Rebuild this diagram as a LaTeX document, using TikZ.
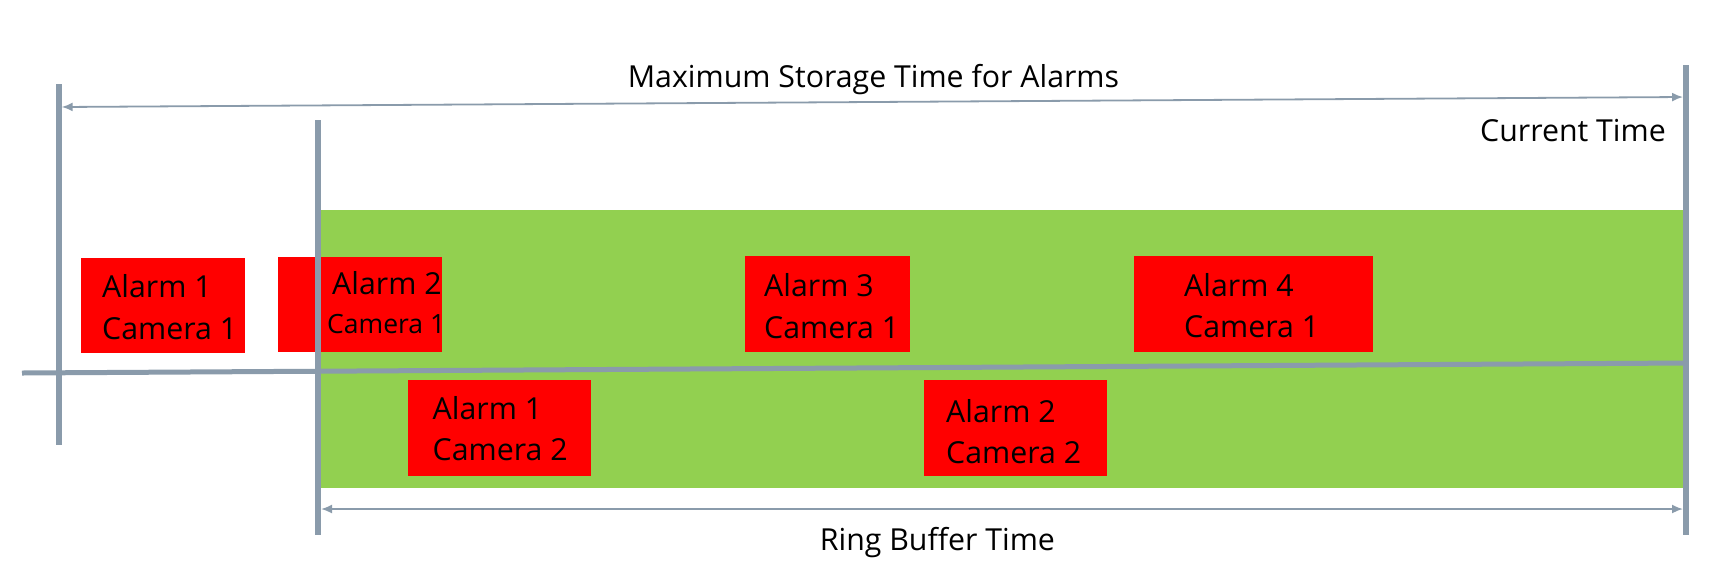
\documentclass[tikz,border=0pt]{standalone}
\usepackage{fontspec}
\setmainfont{Open Sans}
\usetikzlibrary{arrows.meta}
\definecolor{lineC}{HTML}{8A9BAB}
\definecolor{bandC}{HTML}{92D050}
\definecolor{alarmC}{HTML}{FF0000}
\tikzset{
  vline/.style={draw=lineC, line width=6pt},
  axisline/.style={draw=lineC, line width=5pt},
  dimarrow/.style={draw=lineC, line width=1.8pt, {Latex[length=11pt,width=9pt]}-{Latex[length=11pt,width=9pt]}},
  band/.style={fill=bandC, draw=none, inner sep=0pt, anchor=north west},
  redbox/.style={fill=alarmC, draw=none, inner sep=0pt, anchor=north west},
  lbl/.style={font=\fontsize{30.3}{36}\selectfont, inner sep=0pt, anchor=base west, text=black},
  smalllbl/.style={font=\fontsize{26.5}{32}\selectfont, inner sep=0pt, anchor=base west, text=black},
  title/.style={font=\fontsize{30.3}{36}\selectfont, inner sep=0pt, text=black}
}
\begin{document}
\begin{tikzpicture}[x=1pt,y=-1pt]
\useasboundingbox (0,0) rectangle (1715,566);
% ring buffer band
\node[band, minimum width=1365pt, minimum height=278pt] (band) at (318,210) {};
% alarm boxes
\node[redbox, minimum width=164pt, minimum height=95pt] (b1) at (81,258) {};
\node[redbox, minimum width=164pt, minimum height=95pt] (b2) at (278,257) {};
\node[redbox, minimum width=165pt, minimum height=96pt] (b3) at (745,256) {};
\node[redbox, minimum width=239pt, minimum height=96pt] (b4) at (1134,256) {};
\node[redbox, minimum width=183.5pt, minimum height=96pt] (b5) at (407.5,380) {};
\node[redbox, minimum width=183pt, minimum height=96pt] (b6) at (924,380) {};
% box texts
\node[lbl] (t1a) at (102,297) {Alarm 1};
\node[lbl] (t1b) at (102,339) {Camera 1};
\node[lbl] (t2a) at (332,294) {Alarm 2};
\node[smalllbl] (t2b) at (327,333) {Camera 1};
\node[lbl] (t3a) at (764,296.7) {Alarm 3};
\node[lbl] (t3b) at (764,338) {Camera 1};
\node[lbl] (t4a) at (1184,296.7) {Alarm 4};
\node[lbl] (t4b) at (1184,337) {Camera 1};
\node[lbl] (t5a) at (432.5,419) {Alarm 1};
\node[lbl] (t5b) at (432.5,460.7) {Camera 2};
\node[lbl] (t6a) at (946,422) {Alarm 2};
\node[lbl] (t6b) at (946,463) {Camera 2};
% lines
\coordinate (L1top) at (58.7,84);
\coordinate (L1bot) at (58.7,445);
\coordinate (L2top) at (318,120);
\coordinate (L2bot) at (318,535);
\coordinate (L3top) at (1686,65);
\coordinate (L3bot) at (1686,535);
\coordinate (AxL) at (22,373);
\coordinate (AxR) at (1688,363);
\draw[axisline] (AxL) -- (AxR);
\draw[vline] (L1top) -- (L1bot);
\draw[vline] (L2top) -- (L2bot);
\draw[vline] (L3top) -- (L3bot);
% dimension arrows
\coordinate (MaxL) at (61.7,107);
\coordinate (MaxR) at (1683,97);
\coordinate (RingL) at (321,509);
\coordinate (RingR) at (1683,509);
\draw[dimarrow] (MaxL) -- (MaxR);
\draw[dimarrow] (RingL) -- (RingR);
% labels
\node[title, anchor=base] (maxlbl) at (873.5,87.7) {Maximum Storage Time for Alarms};
\node[title, anchor=base east] (curlbl) at (1666,141.7) {Current Time};
\node[title, anchor=base] (ringlbl) at (937.4,550.7) {Ring Buffer Time};
\end{tikzpicture}
\end{document}
